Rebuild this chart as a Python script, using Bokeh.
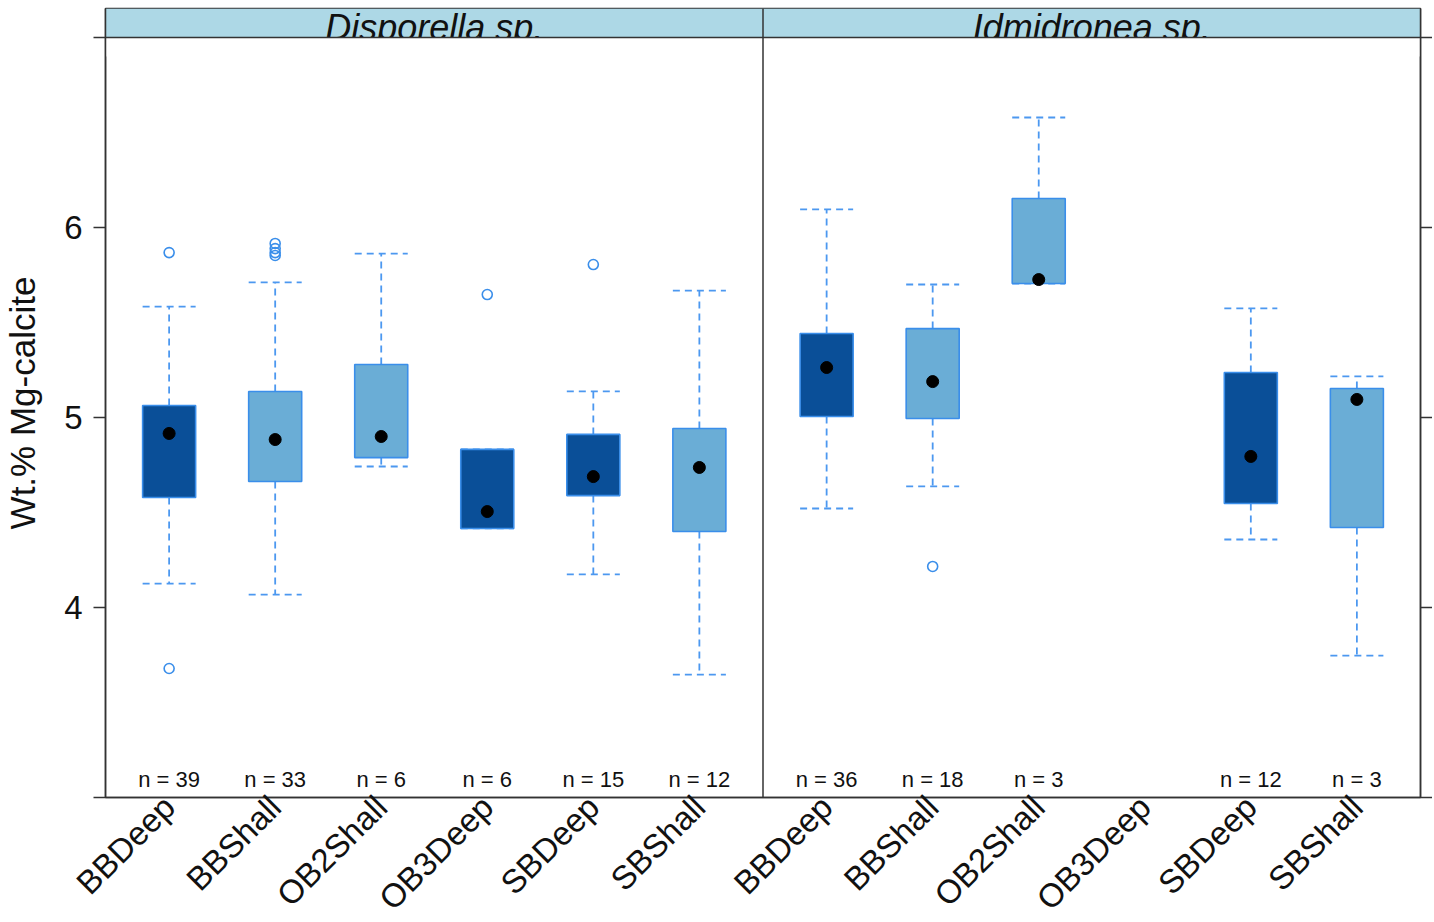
import math
from bokeh.plotting import figure
from bokeh.models import ColumnDataSource, FixedTicker, LinearAxis, Span, Range1d
from bokeh.core.properties import value
from bokeh.embed import file_html
from bokeh.resources import INLINE

nan = float("nan")

# ---- data ----
sites = ["BBDeep", "BBShall", "OB2Shall", "OB3Deep", "SBDeep", "SBShall"]
panels = ["Disporella sp.", "Idmidronea sp."]
depth = ["Deep", "Shall", "Shall", "Deep", "Deep", "Shall"]

disp_low = [4.126, 4.068, 4.742, 4.416, 4.174, 3.647]
disp_q1 = [4.579, 4.663, 4.789, 4.416, 4.589, 4.400]
disp_med = [4.916, 4.884, 4.900, 4.505, 4.689, 4.737]
disp_q3 = [5.063, 5.137, 5.279, 4.832, 4.911, 4.942]
disp_high = [5.584, 5.711, 5.863, 4.832, 5.137, 5.668]
disp_n = [39, 33, 6, 6, 15, 12]
disp_out = [[5.868, 3.679], [5.916, 5.889, 5.868, 5.853], [], [5.647], [5.805], []]

idm_low = [4.521, 4.637, 5.705, nan, 4.358, 3.747]
idm_q1 = [5.005, 4.995, 5.705, nan, 4.547, 4.421]
idm_med = [5.263, 5.189, 5.726, nan, 4.795, 5.095]
idm_q3 = [5.442, 5.468, 6.153, nan, 5.237, 5.153]
idm_high = [6.095, 5.700, 6.579, nan, 5.574, 5.216]
idm_n = [36, 18, 3, None, 12, 3]
idm_out = [[], [4.216], [], [], [], []]

y_ticks = [3, 4, 5, 6, 7]
y_min, y_max = 3, 7

# ---- styling ----
DARK = "#0A4F98"
LIGHT = "#6AADD6"
EDGE = "#3A8EEA"
WHISK = "#4C98F0"
AXC = "#333333"
FONT = "Liberation Sans"
PANEL_W = 6.2
STRIP_H = 29 / 190.0

p = figure(frame_width=1315, frame_height=789,
           x_range=Range1d(0.4, 0.4 + 2 * PANEL_W),
           y_range=Range1d(y_min, y_max + STRIP_H),
           output_backend="svg", toolbar_location=None,
           min_border_left=97, min_border_top=8, min_border_right=2, min_border_bottom=10)
p.xgrid.visible = False
p.ygrid.visible = False
p.outline_line_color = AXC
p.outline_line_width = 1.5
p.background_fill_color = "white"
p.border_fill_color = "white"

# strips
p.quad(left=[0.4, 0.4 + PANEL_W], right=[0.4 + PANEL_W, 0.4 + 2 * PANEL_W],
       bottom=[y_max, y_max], top=[y_max + STRIP_H] * 2,
       fill_color="#ADD8E6", line_color=None)
p.text(x=[0.4 + PANEL_W / 2, 0.4 + 1.5 * PANEL_W], y=[y_max + 10 / 190.0] * 2, text=panels,
       text_font=value(FONT), text_font_style="italic", text_font_size="36px",
       text_align="center", text_baseline="alphabetic", text_color="#111111")
p.quad(left=[0.4], right=[0.4 + 2 * PANEL_W], bottom=[y_max - 0.1], top=[y_max],
       fill_color="white", line_color=None)

all_pos, all_lab = [], []
datasets = [
    (disp_low, disp_q1, disp_med, disp_q3, disp_high, disp_n, disp_out),
    (idm_low, idm_q1, idm_med, idm_q3, idm_high, idm_n, idm_out),
]
for k, (lo, q1, md, q3, hi, ns, outs) in enumerate(datasets):
    xs, b_lo, b_q1, b_md, b_q3, b_hi, cols = [], [], [], [], [], [], []
    ox, oy, nx, nt = [], [], [], []
    for i, s in enumerate(sites):
        x = round(i + 1 + k * PANEL_W, 3)
        all_pos.append(x)
        all_lab.append(s)
        if ns[i] is None or math.isnan(md[i]):
            continue
        xs.append(x)
        b_lo.append(lo[i]); b_q1.append(q1[i]); b_md.append(md[i])
        b_q3.append(q3[i]); b_hi.append(hi[i])
        cols.append(DARK if depth[i] == "Deep" else LIGHT)
        for v in outs[i]:
            ox.append(x); oy.append(v)
        nx.append(x); nt.append("n = %d" % ns[i])
    src = ColumnDataSource(dict(x=xs, lo=b_lo, q1=b_q1, md=b_md, q3=b_q3, hi=b_hi, col=cols,
                                xl=[x - 0.25 for x in xs], xr=[x + 0.25 for x in xs]))
    # whiskers
    for (a0, a1, b0, b1) in [("x", "q3", "x", "hi"), ("x", "q1", "x", "lo"),
                             ("xl", "hi", "xr", "hi"), ("xl", "lo", "xr", "lo")]:
        p.segment(x0=a0, y0=a1, x1=b0, y1=b1, source=src, line_color=WHISK,
                  line_width=1.8, line_dash="7 5")
    # boxes
    p.vbar(x="x", bottom="q1", top="q3", width=0.5, source=src, fill_color="col",
           line_color=EDGE, line_width=1.6)
    # medians
    p.scatter(x="x", y="md", source=src, size=12, color="black")
    # outliers
    p.scatter(x=ox, y=oy, size=10, marker="circle", fill_color=None,
              line_color=EDGE, line_width=1.6)
    # n labels
    p.text(x=nx, y=[3.095] * len(nx), text=nt, text_font=value(FONT), text_font_size="22px",
           text_align="center", text_baseline="middle", text_color="#111111")

# panel divider and strip border
p.add_layout(Span(location=0.4 + PANEL_W, dimension="height", line_color=AXC, line_width=1.5))
p.add_layout(Span(location=y_max, dimension="width", line_color=AXC, line_width=1.5))

# axes
overrides_y = {t: ("" if t in (3, 7) else str(t)) for t in y_ticks}
p.yaxis.ticker = FixedTicker(ticks=y_ticks)
p.yaxis.major_label_overrides = overrides_y
p.yaxis.major_tick_out = 12
p.yaxis.major_tick_in = 0
p.yaxis.minor_tick_line_color = None
p.yaxis.major_label_standoff = 11
p.yaxis.major_label_text_font = FONT
p.yaxis.major_label_text_font_size = "33px"
p.yaxis.major_label_text_color = "#111111"
p.yaxis.axis_line_color = AXC
p.yaxis.axis_line_width = 1.5
p.yaxis.major_tick_line_color = AXC
p.yaxis.major_tick_line_width = 1.5
p.yaxis.axis_label = "Wt.% Mg-calcite"
p.yaxis.axis_label_text_font = FONT
p.yaxis.axis_label_text_font_style = "normal"
p.yaxis.axis_label_text_font_size = "35px"
p.yaxis.axis_label_text_color = "#111111"
p.yaxis.axis_label_standoff = 19

p.xaxis.ticker = FixedTicker(ticks=all_pos)
p.xaxis.major_label_overrides = {x: l for x, l in zip(all_pos, all_lab)}
p.xaxis.major_label_orientation = math.pi / 4
p.xaxis.major_tick_out = 0
p.xaxis.major_tick_in = 0
p.xaxis.minor_tick_line_color = None
p.xaxis.major_label_standoff = 4
p.xaxis.major_label_text_font = FONT
p.xaxis.major_label_text_font_size = "33px"
p.xaxis.major_label_text_color = "#111111"
p.xaxis.axis_line_color = AXC
p.xaxis.axis_line_width = 1.5

ra = LinearAxis(ticker=FixedTicker(ticks=y_ticks),
                major_label_overrides={t: "" for t in y_ticks},
                major_tick_out=12, major_tick_in=0, minor_tick_line_color=None,
                axis_line_color=AXC, axis_line_width=1.5,
                major_tick_line_color=AXC, major_tick_line_width=1.5,
                major_label_text_font_size="1px", major_label_standoff=0)
p.add_layout(ra, "right")

open("out.html", "w").write(file_html(p, INLINE))
